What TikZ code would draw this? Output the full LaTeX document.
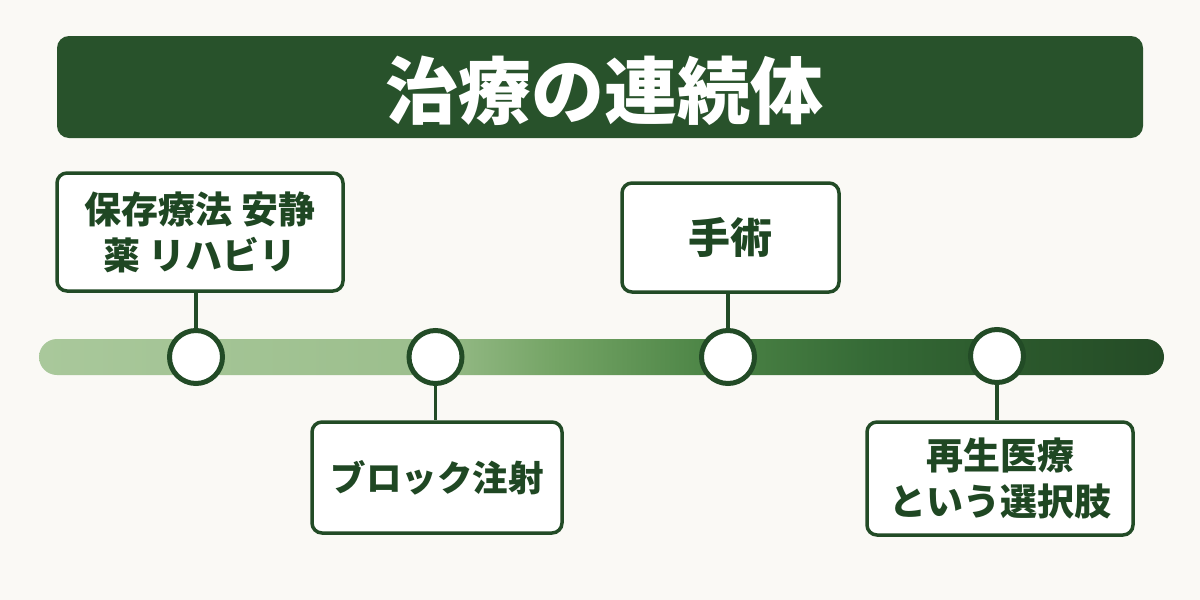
\documentclass[tikz,border=0pt]{standalone}
\usepackage{fontspec}
\newfontfamily\jp{Noto Sans CJK JP}
\definecolor{bg}{HTML}{FAF9F5}
\definecolor{titlegreen}{HTML}{28522B}
\definecolor{dkgreen}{HTML}{224B26}
\definecolor{txtgreen}{HTML}{1F4723}
\definecolor{g1}{HTML}{A9C89B}
\definecolor{g2}{HTML}{9CBF8D}
\definecolor{g3}{HTML}{74A465}
\definecolor{g4}{HTML}{4E8647}
\definecolor{g5}{HTML}{356A36}
\definecolor{g6}{HTML}{2C5A2D}
\definecolor{g7}{HTML}{244B26}
\pgfdeclarehorizontalshading{timeline}{100bp}{color(0bp)=(g1); color(25bp)=(g1); color(42bp)=(g2); color(48bp)=(g3); color(54.4bp)=(g4); color(62bp)=(g5); color(67.7bp)=(g6); color(75bp)=(g7); color(100bp)=(g7)}
\tikzset{
  stage/.style={draw=dkgreen, line width=3.5pt, fill=white, rounded corners=10pt,
    text=txtgreen, font=\jp\bfseries\fontsize{37}{46}\selectfont, align=center, inner sep=0pt},
  dot/.style={circle, draw=dkgreen, line width=5pt, fill=white, minimum size=53pt, inner sep=0pt},
  link/.style={draw=dkgreen, line width=3.5pt}
}
\begin{document}
\begin{tikzpicture}[x=1pt,y=-1pt]
\fill[bg] (0,0) rectangle (1200,600);
\useasboundingbox (0,0) rectangle (1200,600);
% title
\node[fill=titlegreen, rounded corners=12pt, minimum width=1086pt, minimum height=102pt, inner sep=0pt] (title) at (600,87) {};
\node[text=white, font=\jp\bfseries\fontsize{73}{80}\selectfont] (titletext) at (604,91) {治療の連続体};
% timeline bar
\shade[shading=timeline, rounded corners=18pt] (39,339) rectangle (1164,375);
% dots
\node[dot] (c1) at (196,357) {};
\node[dot] (c2) at (435.5,357) {};
\node[dot] (c3) at (728,357) {};
\node[dot] (c4) at (997,356) {};
% boxes
\node[stage, minimum width=286pt, minimum height=118pt] (b1) at (200,232) {保存療法 安静\\薬 リハビリ};
\node[stage, minimum width=217pt, minimum height=109pt, font=\jp\bfseries\fontsize{42}{46}\selectfont] (b2) at (730.5,237.5) {手術};
\node[stage, minimum width=250pt, minimum height=111pt, font=\jp\bfseries\fontsize{35.5}{46}\selectfont] (b3) at (437,477.5) {ブロック注射};
\node[stage, minimum width=266pt, minimum height=113pt] (b4) at (1000,478.5) {再生医療\\という選択肢};
% connectors
\draw[link] (c1.north) -- (c1.north |- b1.south);
\draw[link] (c3.north) -- (c3.north |- b2.south);
\draw[link] (c2.south) -- (c2.south |- b3.north);
\draw[link] (c4.south) -- (c4.south |- b4.north);
\end{tikzpicture}
\end{document}
